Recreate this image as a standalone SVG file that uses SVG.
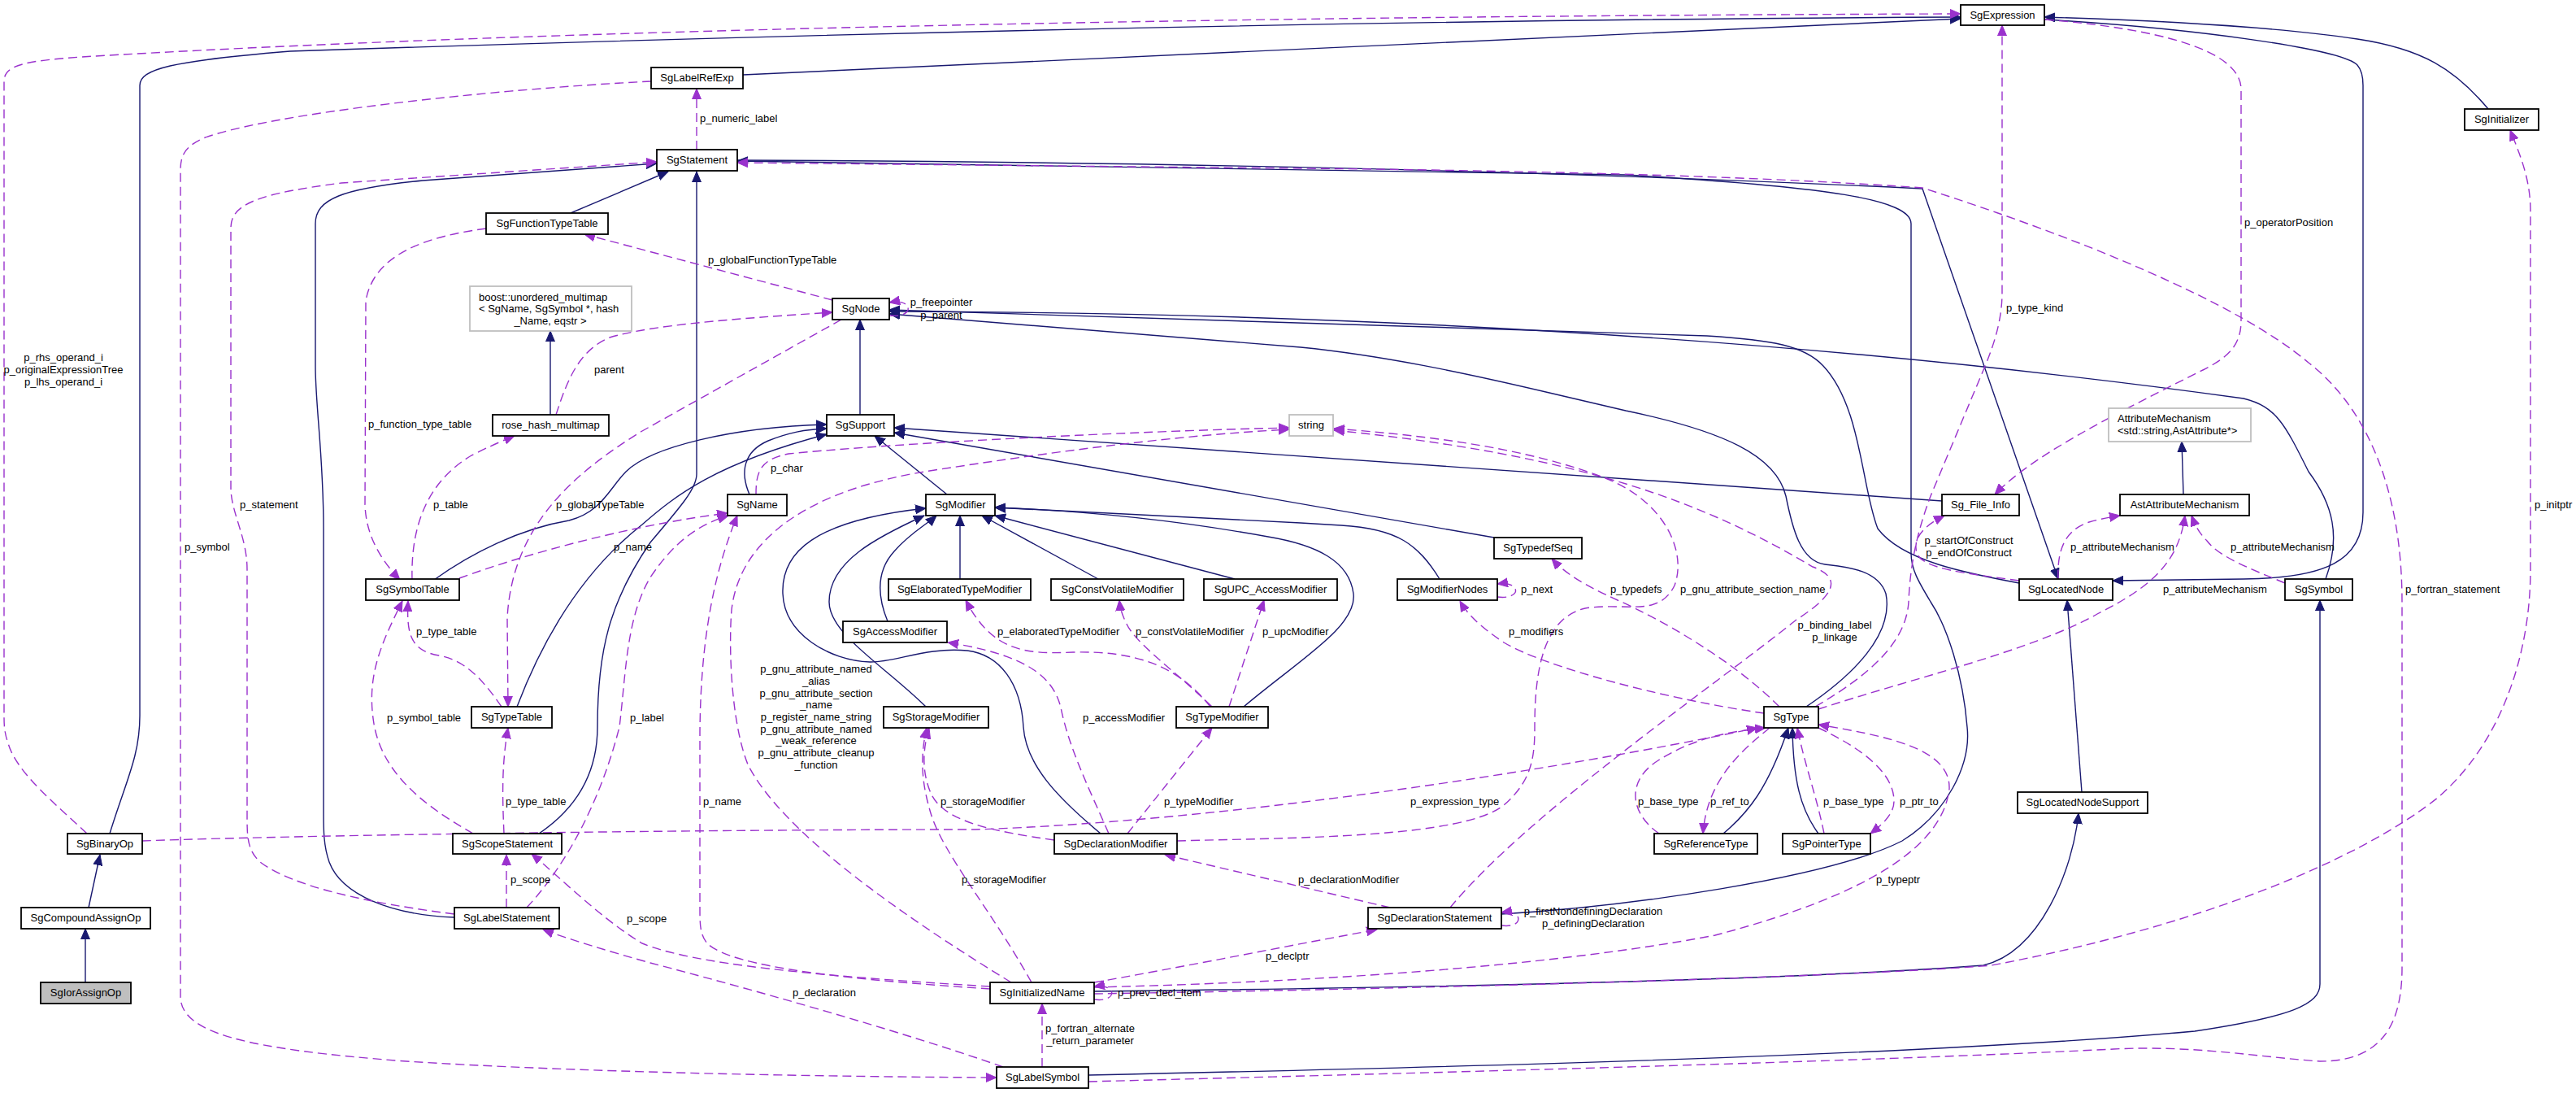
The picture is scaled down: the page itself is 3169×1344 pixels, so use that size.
<svg xmlns="http://www.w3.org/2000/svg" width="3169" height="1344" viewBox="0 0 3169 1344">
<style>
text{font-family:"Liberation Sans",Arial,sans-serif;font-size:13px;fill:#000}
.n rect{fill:#fff;stroke:#000;stroke-width:1.8}
.g rect{fill:#fff;stroke:#bfbfbf;stroke-width:1.8}
.f rect{fill:#bfbfbf;stroke:#000;stroke-width:1.8}
.n text,.f text{text-anchor:middle}
.e{fill:none;stroke:#191970;stroke-width:1.4;marker-end:url(#an)}
.d{fill:none;stroke:#9a32cd;stroke-width:1.4;stroke-dasharray:11,6;marker-end:url(#ap)}
.m{text-anchor:middle}
</style>
<defs>
<marker id="an" viewBox="0 0 14 12" refX="13" refY="6" markerWidth="14" markerHeight="12" markerUnits="userSpaceOnUse" orient="auto"><path d="M0,0.5 L13,6 L0,11.5 z" fill="#191970" stroke="#191970" stroke-width="1"/></marker>
<marker id="ap" viewBox="0 0 14 12" refX="13" refY="6" markerWidth="14" markerHeight="12" markerUnits="userSpaceOnUse" orient="auto"><path d="M0,0.5 L13,6 L0,11.5 z" fill="#9a32cd" stroke="#9a32cd" stroke-width="1"/></marker>
</defs>
<rect width="3169" height="1344" fill="#fff"/>
<g id="connectors">
<path class="e" d="M105,1208 L105,1142"/>
<path class="e" d="M109,1116 L123,1051"/>
<path class="e" d="M135,1025 C155,960 172,930 172,880 L172,105 C172,85 210,75 357,63 Q1500,25 2412,21"/>
<path class="e" d="M914,92 L2412,23"/>
<path class="e" d="M3061,134 C3020,85 2980,60 2900,48 C2800,33 2650,25 2515,21"/>
<path class="e" d="M2515,24 C2700,35 2880,60 2900,80 Q2907,88 2907,105 L2907,630 C2907,690 2860,711 2760,712 L2599,714"/>
<path class="e" d="M907,197 Q1700,200 2365,232 L2532,712"/>
<path class="e" d="M1847,1124 C2000,1115 2250,1080 2340,1034 C2395,1000 2425,940 2420,894 C2415,830 2395,770 2375,740 C2360,715 2351,700 2351,680 L2351,275 C2351,245 2250,230 2000,215 L907,198"/>
<path class="e" d="M702,262 L822,211"/>
<path class="e" d="M663,1025 C700,1000 735,960 735,894 C735,800 750,740 800,667 C840,620 857,600 857,583 L857,211"/>
<path class="e" d="M559,1128 C480,1125 420,1100 405,1060 C398,1040 398,1020 398,1000 L398,650 C398,560 388,500 388,450 L388,275 C388,245 420,232 520,222 L808,201"/>
<path class="e" d="M534,713 C580,680 640,650 700,640 C740,630 750,600 770,580 C800,550 900,525 1017,522"/>
<path class="e" d="M636,869 C670,780 720,700 790,645 C830,610 880,570 1017,534"/>
<path class="e" d="M922,608 C910,580 915,555 945,542 C970,532 990,528 1017,527"/>
<path class="e" d="M1165,608 L1076,536"/>
<path class="e" d="M1838,661 L1100,532"/>
<path class="e" d="M2389,616 L1100,526"/>
<path class="e" d="M1058,510 L1058,393"/>
<path class="e" d="M1771,712 C1745,670 1720,650 1650,646 L1600,643 C1450,635 1300,628 1224,624"/>
<path class="e" d="M1530,869 C1600,810 1670,770 1665,730 C1660,690 1620,670 1560,660 C1450,640 1330,628 1224,624"/>
<path class="e" d="M1519,712 L1224,634"/>
<path class="e" d="M1351,712 L1208,634"/>
<path class="e" d="M1181,712 L1181,634"/>
<path class="e" d="M1092,764 C1078,730 1080,700 1100,678 C1120,655 1140,645 1152,634"/>
<path class="e" d="M1139,869 C1090,820 1020,780 1020,740 C1020,690 1080,660 1137,634"/>
<path class="e" d="M1354,1025 C1300,980 1262,940 1259,894 C1256,840 1230,805 1190,800 C1140,795 1100,815 1070,814 C1020,812 965,780 963,730 C961,680 1000,640 1139,625"/>
<path class="e" d="M2120,1025 C2150,1000 2175,970 2200,895"/>
<path class="e" d="M2237,1025 C2215,995 2206,960 2205,895"/>
<path class="e" d="M2222,869 C2280,830 2330,780 2320,730 C2310,700 2270,697 2245,694 C2215,690 2205,650 2197,610 C2185,560 2120,530 2000,505 L1906,483 C1800,458 1700,437 1600,427 L1094,386"/>
<path class="e" d="M2484,717 C2420,705 2340,690 2310,650 C2290,600 2290,500 2243,450 C2220,425 2180,418 2100,413 L1094,381"/>
<path class="e" d="M2861,712 C2880,660 2870,620 2840,580 C2810,520 2800,500 2760,490 Q2000,385 1094,383"/>
<path class="e" d="M2561,974 L2543,738"/>
<path class="e" d="M1346,1219 C1800,1214 2200,1205 2440,1187 C2510,1170 2550,1070 2557,1000"/>
<path class="e" d="M1339,1322 C1900,1310 2400,1295 2700,1268 C2820,1250 2854,1235 2854,1210 L2854,738"/>
<path class="e" d="M677,510 L677,407"/>
<path class="e" d="M2686,608 L2684,543"/>

<path class="d" d="M107,1025 C70,990 20,950 10,914 C5,900 5,890 5,880 L5,100 C5,80 30,75 100,70 C600,40 1400,20 2412,17"/>
<path class="d" d="M857,184 L857,109"/>
<path class="d" d="M1024,369 L719,288"/>
<path class="d" d="M598,281 C530,290 460,310 450,370 L449,620 C450,660 470,690 492,713"/>
<path class="d" d="M684,510 C700,460 715,430 750,415 C800,400 900,392 1024,384"/>
<path class="d" d="M507,713 C505,640 530,590 580,560 Q610,545 633,536"/>
<path class="d" d="M1035,393 L790,530 C700,585 630,650 624,760 L625,869"/>
<path class="d" d="M565,711 C650,680 780,645 895,631"/>
<path class="d" d="M617,869 C590,830 570,812 540,806 C505,800 500,780 502,739"/>
<path class="d" d="M582,1025 C520,990 470,950 460,890 C450,830 470,790 495,739"/>
<path class="d" d="M620,1025 C618,980 617,940 625,895"/>
<path class="d" d="M623,1116 L623,1051"/>
<path class="d" d="M648,1116 C700,1060 740,980 762,894 C770,830 770,760 800,710 C830,665 860,645 896,634"/>
<path class="d" d="M559,1124 C450,1110 360,1090 320,1060 C304,1045 304,1030 304,1000 L304,700 C304,660 284,630 284,600 L284,280 C284,250 320,238 420,225 L808,199"/>
<path class="d" d="M1234,1312 C1100,1265 900,1210 800,1184 C750,1170 700,1155 668,1143"/>
<path class="d" d="M1282,1312 L1282,1234"/>
<path class="d" d="M801,100 C600,110 330,140 250,170 C228,180 222,190 222,210 L222,1225 C222,1270 300,1290 500,1305 C700,1318 1000,1324 1226,1325"/>
<path class="d" d="M1094,388 C1125,392 1125,366 1094,372"/>
<path class="d" d="M930,608 C930,580 935,565 970,558 C1100,545 1400,530 1586,526"/>
<path class="d" d="M1244,1208 C1100,1120 960,1020 920,940 C900,890 896,800 900,750 C910,660 1000,600 1150,578 C1300,555 1450,535 1586,528"/>
<path class="d" d="M1448,1034 C1600,1030 1800,1030 1850,990 C1885,960 1888,930 1888,894 C1888,820 1900,760 1950,748 C2000,740 2040,760 2060,720 C2075,680 2050,620 1980,590 C1880,550 1750,535 1641,527"/>
<path class="d" d="M1784,1116 C1880,1000 2100,850 2210,762 C2260,730 2265,710 2230,697 C2100,620 1950,560 1641,529"/>
<path class="d" d="M2170,877 C2050,860 1900,820 1850,790 C1820,770 1805,755 1796,739"/>
<path class="d" d="M1842,734 C1872,738 1872,714 1842,718"/>
<path class="d" d="M2189,869 C2130,810 2040,760 1990,738 C1950,720 1925,705 1909,687"/>
<path class="d" d="M2532,712 C2530,670 2545,650 2570,642 C2585,638 2595,636 2608,634"/>
<path class="d" d="M2811,717 C2770,700 2730,685 2715,665 C2705,655 2700,645 2696,634"/>
<path class="d" d="M2237,872 C2350,835 2500,800 2580,755 C2650,720 2680,690 2688,634"/>
<path class="d" d="M2484,714 C2420,705 2365,700 2358,680 C2352,660 2370,645 2392,634"/>
<path class="d" d="M2516,24 C2650,35 2757,60 2757,110 L2757,395 C2757,425 2740,440 2710,455 C2600,510 2500,560 2454,608"/>
<path class="d" d="M2233,869 C2300,830 2345,790 2348,740 C2350,690 2360,650 2375,610 L2440,455 C2455,420 2463,390 2463,360 L2463,31"/>
<path class="d" d="M1339,1330 C1800,1318 2300,1305 2600,1290 C2700,1285 2780,1300 2854,1305 C2930,1305 2955,1260 2955,1190 L2955,740 C2955,600 2910,500 2840,446 C2750,370 2550,290 2365,231 Q2100,212 1600,207 L907,200"/>
<path class="d" d="M1346,1222 C1800,1215 2300,1200 2450,1187 C2700,1140 2900,1060 3000,980 C3080,910 3113,800 3113,700 L3113,260 C3113,220 3100,190 3088,160"/>
<path class="d" d="M1346,1208 C1450,1190 1600,1160 1694,1143"/>
<path class="d" d="M1346,1229 C1375,1233 1375,1209 1346,1213"/>
<path class="d" d="M1847,1138 C1875,1142 1875,1118 1847,1122"/>
<path class="d" d="M1489,869 C1450,820 1400,800 1320,802 C1260,805 1220,800 1188,738"/>
<path class="d" d="M1491,869 C1440,820 1395,790 1385,765 C1380,755 1378,748 1377,738"/>
<path class="d" d="M1512,869 L1555,738"/>
<path class="d" d="M1387,1025 L1491,895"/>
<path class="d" d="M1364,1025 C1340,970 1315,920 1305,870 C1295,830 1260,805 1166,790"/>
<path class="d" d="M1297,1033 C1220,1022 1160,1010 1145,975 C1132,945 1137,915 1143,895"/>
<path class="d" d="M1269,1208 C1220,1120 1160,1050 1145,1000 C1133,960 1132,930 1140,895"/>
<path class="d" d="M1710,1116 L1433,1051"/>
<path class="d" d="M175,1034 C400,1026 900,1020 1200,1020 C1500,1010 1900,950 2162,895"/>
<path class="d" d="M1346,1214 C1600,1208 1900,1190 2110,1150 C2300,1100 2390,1040 2398,970 C2400,920 2320,905 2237,891"/>
<path class="d" d="M2177,895 C2140,925 2100,960 2095,1025"/>
<path class="d" d="M2041,1025 C2005,1000 2000,960 2040,935 C2080,910 2120,900 2172,895"/>
<path class="d" d="M2244,1025 C2235,980 2220,940 2211,895"/>
<path class="d" d="M2237,895 C2290,920 2330,950 2330,985 C2330,1000 2318,1012 2301,1025"/>
<path class="d" d="M1218,1213 C1000,1200 850,1185 790,1160 C740,1130 690,1080 654,1050"/>
<path class="d" d="M1218,1216 C1050,1205 900,1190 870,1160 C862,1150 861,1140 861,1120 L861,900 C862,780 880,700 907,634"/>

<g id="edge-labels">
<text class="m" x="78" y="443.5">p_rhs_operand_i</text>
<text class="m" x="78" y="458.5">p_originalExpressionTree</text>
<text class="m" x="78" y="473.5">p_lhs_operand_i</text>
<text x="861" y="150">p_numeric_label</text>
<text x="871" y="323.5">p_globalFunctionTypeTable</text>
<text class="m" x="1158" y="376">p_freepointer</text>
<text class="m" x="1158" y="391.5">p_parent</text>
<text x="2761" y="278">p_operatorPosition</text>
<text x="2468" y="383">p_type_kind</text>
<text x="453" y="526">p_function_type_table</text>
<text x="731" y="458.5">parent</text>
<text x="295" y="625">p_statement</text>
<text x="533" y="625">p_table</text>
<text x="684" y="625">p_globalTypeTable</text>
<text x="227" y="677">p_symbol</text>
<text x="755" y="677">p_name</text>
<text x="512" y="781">p_type_table</text>
<text x="476" y="886.5">p_symbol_table</text>
<text x="775" y="886.5">p_label</text>
<text x="948" y="579.5">p_char</text>
<text x="1227" y="781">p_elaboratedTypeModifier</text>
<text x="1397" y="781">p_constVolatileModifier</text>
<text x="1553" y="781">p_upcModifier</text>
<text x="1332" y="886.5">p_accessModifier</text>
<text class="m" x="1004" y="827">p_gnu_attribute_named</text>
<text class="m" x="1004" y="842">_alias</text>
<text class="m" x="1004" y="856.5">p_gnu_attribute_section</text>
<text class="m" x="1004" y="871">_name</text>
<text class="m" x="1004" y="886">p_register_name_string</text>
<text class="m" x="1004" y="900.5">p_gnu_attribute_named</text>
<text class="m" x="1004" y="915">_weak_reference</text>
<text class="m" x="1004" y="930">p_gnu_attribute_cleanup</text>
<text class="m" x="1004" y="945">_function</text>
<text x="1871" y="729">p_next</text>
<text x="1981" y="729">p_typedefs</text>
<text x="2067" y="729">p_gnu_attribute_section_name</text>
<text class="m" x="2257" y="772.5">p_binding_label</text>
<text class="m" x="2257" y="787.5">p_linkage</text>
<text x="1856" y="781">p_modifiers</text>
<text class="m" x="2422" y="668.5">p_startOfConstruct</text>
<text class="m" x="2422" y="683.5">p_endOfConstruct</text>
<text x="2547" y="677">p_attributeMechanism</text>
<text x="2744" y="677">p_attributeMechanism</text>
<text x="2661" y="729">p_attributeMechanism</text>
<text x="2959" y="729">p_fortran_statement</text>
<text x="3118" y="625">p_initptr</text>
<text x="622" y="990">p_type_table</text>
<text x="628" y="1086">p_scope</text>
<text x="771" y="1133.5">p_scope</text>
<text x="865" y="990">p_name</text>
<text x="1157" y="990">p_storageModifier</text>
<text x="1432" y="990">p_typeModifier</text>
<text x="1183" y="1086">p_storageModifier</text>
<text x="1597" y="1086">p_declarationModifier</text>
<text x="1557" y="1179.5">p_declptr</text>
<text x="975" y="1225">p_declaration</text>
<text x="1375" y="1225">p_prev_decl_item</text>
<text class="m" x="1341" y="1269">p_fortran_alternate</text>
<text class="m" x="1341" y="1284">_return_parameter</text>
<text x="1735" y="990">p_expression_type</text>
<text x="2015" y="990">p_base_type</text>
<text x="2104" y="990">p_ref_to</text>
<text x="2243" y="990">p_base_type</text>
<text x="2337" y="990">p_ptr_to</text>
<text x="2308" y="1086">p_typeptr</text>
<text class="m" x="1960" y="1125">p_firstNondefiningDeclaration</text>
<text class="m" x="1960" y="1140">p_definingDeclaration</text>
</g>
</g>

<g id="nodes">
<g id="SgExpression" class="n"><rect x="2412" y="6" width="103" height="25"/><text x="2463.5" y="23">SgExpression</text></g>
<g id="SgLabelRefExp" class="n"><rect x="801" y="83" width="113" height="26"/><text x="857.5" y="100">SgLabelRefExp</text></g>
<g id="SgInitializer" class="n"><rect x="3032" y="134" width="91" height="26"/><text x="3077.5" y="151">SgInitializer</text></g>
<g id="SgStatement" class="n"><rect x="808" y="184" width="99" height="26"/><text x="857.5" y="201">SgStatement</text></g>
<g id="SgFunctionTypeTable" class="n"><rect x="598" y="262" width="150" height="26"/><text x="673" y="279">SgFunctionTypeTable</text></g>
<g id="SgNode" class="n"><rect x="1024" y="367" width="70" height="26"/><text x="1059" y="384">SgNode</text></g>
<g id="boost_unordered_multimap" class="g"><rect x="578" y="352" width="199" height="55"/><text x="589" y="369.5">boost::unordered_multimap</text><text x="589" y="384">&lt; SgName, SgSymbol *, hash</text><text x="677" y="398.5" text-anchor="middle">_Name, eqstr &gt;</text></g>
<g id="rose_hash_multimap" class="n"><rect x="606" y="510" width="143" height="26"/><text x="677.5" y="527">rose_hash_multimap</text></g>
<g id="SgSupport" class="n"><rect x="1017" y="510" width="83" height="26"/><text x="1058.5" y="527">SgSupport</text></g>
<g id="string" class="g"><rect x="1586" y="510" width="54" height="26"/><text x="1613" y="527" text-anchor="middle">string</text></g>
<g id="AttributeMechanism" class="g"><rect x="2594" y="502" width="175" height="41"/><text x="2605" y="518.5">AttributeMechanism</text><text x="2605" y="533.5">&lt;std::string,AstAttribute*&gt;</text></g>
<g id="SgName" class="n"><rect x="895" y="608" width="73" height="26"/><text x="931.5" y="625">SgName</text></g>
<g id="SgModifier" class="n"><rect x="1139" y="608" width="85" height="26"/><text x="1181.5" y="625">SgModifier</text></g>
<g id="Sg_File_Info" class="n"><rect x="2389" y="608" width="95" height="26"/><text x="2436.5" y="625">Sg_File_Info</text></g>
<g id="AstAttributeMechanism" class="n"><rect x="2608" y="608" width="159" height="26"/><text x="2687.5" y="625">AstAttributeMechanism</text></g>
<g id="SgTypedefSeq" class="n"><rect x="1838" y="661" width="108" height="26"/><text x="1892" y="678">SgTypedefSeq</text></g>
<g id="SgSymbolTable" class="n"><rect x="450" y="712" width="115" height="26"/><text x="507.5" y="729">SgSymbolTable</text></g>
<g id="SgElaboratedTypeModifier" class="n"><rect x="1093" y="712" width="175" height="26"/><text x="1180.5" y="729">SgElaboratedTypeModifier</text></g>
<g id="SgConstVolatileModifier" class="n"><rect x="1293" y="712" width="163" height="26"/><text x="1374.5" y="729">SgConstVolatileModifier</text></g>
<g id="SgUPC_AccessModifier" class="n"><rect x="1481" y="712" width="164" height="26"/><text x="1563" y="729">SgUPC_AccessModifier</text></g>
<g id="SgModifierNodes" class="n"><rect x="1719" y="712" width="123" height="26"/><text x="1780.5" y="729">SgModifierNodes</text></g>
<g id="SgLocatedNode" class="n"><rect x="2484" y="712" width="115" height="26"/><text x="2541.5" y="729">SgLocatedNode</text></g>
<g id="SgSymbol" class="n"><rect x="2811" y="712" width="83" height="26"/><text x="2852.5" y="729">SgSymbol</text></g>
<g id="SgAccessModifier" class="n"><rect x="1037" y="764" width="128" height="26"/><text x="1101" y="781">SgAccessModifier</text></g>
<g id="SgTypeTable" class="n"><rect x="580" y="869" width="99" height="26"/><text x="629.5" y="886">SgTypeTable</text></g>
<g id="SgStorageModifier" class="n"><rect x="1087" y="869" width="129" height="26"/><text x="1151.5" y="886">SgStorageModifier</text></g>
<g id="SgTypeModifier" class="n"><rect x="1447" y="869" width="113" height="26"/><text x="1503.5" y="886">SgTypeModifier</text></g>
<g id="SgType" class="n"><rect x="2170" y="869" width="67" height="26"/><text x="2203.5" y="886">SgType</text></g>
<g id="SgLocatedNodeSupport" class="n"><rect x="2482" y="974" width="160" height="26"/><text x="2562" y="991">SgLocatedNodeSupport</text></g>
<g id="SgBinaryOp" class="n"><rect x="83" y="1025" width="92" height="25"/><text x="129" y="1042">SgBinaryOp</text></g>
<g id="SgScopeStatement" class="n"><rect x="557" y="1025" width="134" height="25"/><text x="624" y="1042">SgScopeStatement</text></g>
<g id="SgDeclarationModifier" class="n"><rect x="1297" y="1025" width="151" height="25"/><text x="1372.5" y="1042">SgDeclarationModifier</text></g>
<g id="SgReferenceType" class="n"><rect x="2035" y="1025" width="127" height="25"/><text x="2098.5" y="1042">SgReferenceType</text></g>
<g id="SgPointerType" class="n"><rect x="2193" y="1025" width="108" height="25"/><text x="2247" y="1042">SgPointerType</text></g>
<g id="SgCompoundAssignOp" class="n"><rect x="26" y="1116" width="159" height="26"/><text x="105.5" y="1133">SgCompoundAssignOp</text></g>
<g id="SgLabelStatement" class="n"><rect x="559" y="1116" width="129" height="26"/><text x="623.5" y="1133">SgLabelStatement</text></g>
<g id="SgDeclarationStatement" class="n"><rect x="1683" y="1116" width="164" height="26"/><text x="1765" y="1133">SgDeclarationStatement</text></g>
<g id="SgIorAssignOp" class="f"><rect x="50" y="1208" width="111" height="26"/><text x="105.5" y="1225">SgIorAssignOp</text></g>
<g id="SgInitializedName" class="n"><rect x="1218" y="1208" width="128" height="26"/><text x="1282" y="1225">SgInitializedName</text></g>
<g id="SgLabelSymbol" class="n"><rect x="1226" y="1312" width="113" height="26"/><text x="1282.5" y="1329">SgLabelSymbol</text></g>
</g>
</svg>
